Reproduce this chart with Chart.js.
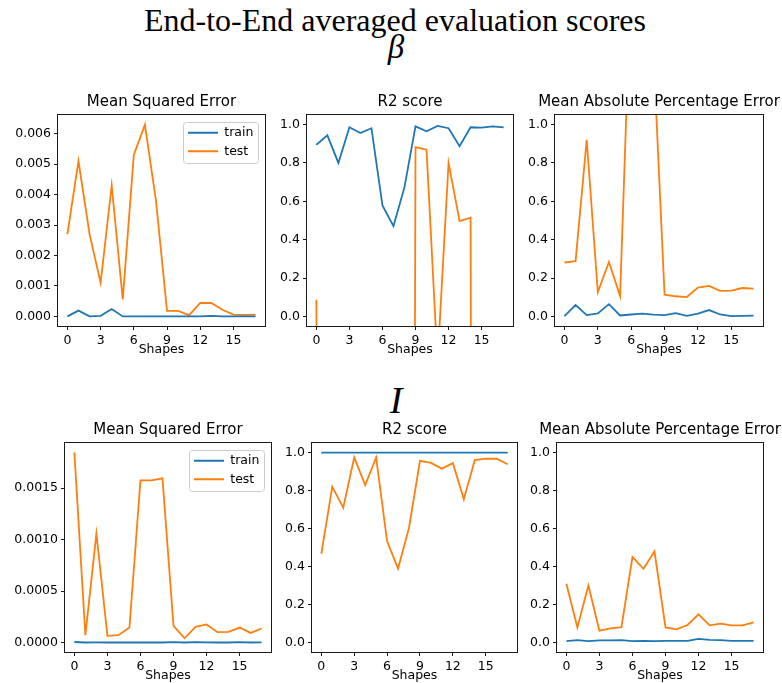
<!DOCTYPE html>
<html>
<head>
<meta charset="utf-8">
<title>End-to-End averaged evaluation scores</title>
<script src="https://cdn.jsdelivr.net/npm/chart.js@4.4.0/dist/chart.umd.min.js"></script>
<style>
body { margin:0; background:#fff; }
#fig { position:relative; width:782px; height:683px; overflow:hidden; }
#fig canvas { position:absolute; }
.txt { position:absolute; text-align:center; white-space:nowrap; color:#000; font-family:"Liberation Serif", "Times New Roman", serif; }
</style>
</head>
<body>
<div id="fig">
  <div class="txt" style="left:95px;top:4px;width:600px;font-size:32px;line-height:32px">End-to-End averaged evaluation scores</div>
  <div class="txt" style="left:346px;top:31px;width:100px;font-size:33px;line-height:33px;font-style:italic">β</div>
  <div class="txt" style="left:346px;top:381px;width:100px;font-size:38px;line-height:38px;font-style:italic">I</div>
  <canvas id="mse_beta"></canvas>
  <canvas id="r2_beta"></canvas>
  <canvas id="mape_beta"></canvas>
  <canvas id="mse_i"></canvas>
  <canvas id="r2_i"></canvas>
  <canvas id="mape_i"></canvas>
</div>
<script>
// shape index on the x axis
var shapes = [0, 1, 2, 3, 4, 5, 6, 7, 8, 9, 10, 11, 12, 13, 14, 15, 16, 17];
var xTicks = [0, 3, 6, 9, 12, 15];

// beta
var mseBetaTrain = [0, 0.00019, 0, 0.00002, 0.00024, 0, 0, 0, 0, 0, 0, 0, 0, 0.00002, 0, 0, 0, 0];
var mseBetaTest = [0.0027, 0.0051, 0.0027, 0.0011, 0.0043, 0.00056, 0.0053, 0.0063, 0.0038, 0.00018, 0.00018, 0.00004, 0.00044, 0.00044, 0.00022, 0.00006, 0.00005, 0.00006];
var r2BetaTrain = [0.895, 0.944, 0.80, 0.986, 0.956, 0.981, 0.579, 0.471, 0.674, 0.991, 0.965, 0.993, 0.981, 0.887, 0.986, 0.984, 0.991, 0.986];
var r2BetaTest = [0.087, -12, -30, -8, -20, -15, -40, -25, -18, 0.883, 0.869, -0.24, 0.80, 0.497, 0.515, -22, -35, -28];
var mapeBetaTrain = [0.002, 0.059, 0.007, 0.016, 0.064, 0.005, 0.010, 0.014, 0.009, 0.007, 0.017, 0.003, 0.014, 0.033, 0.010, 0.002, 0.003, 0.004];
var mapeBetaTest = [0.281, 0.288, 0.921, 0.127, 0.284, 0.106, 1.8, 2.5, 1.38, 0.113, 0.105, 0.101, 0.150, 0.159, 0.133, 0.134, 0.148, 0.145];

// I
var mseITrain = [0.000006, 0.000001, 0.000002, 0.000001, 0.000001, 0.000001, 0.000001, 0.000001, 0.000001, 0.000004, 0.000001, 0.000004, 0.000002, 0.000001, 0.000001, 0.000004, 0.000001, 0.000002];
var mseITest = [0.001845, 0.000072, 0.001057, 0.000065, 0.000072, 0.000146, 0.001575, 0.001575, 0.001594, 0.000163, 0.000042, 0.000153, 0.000176, 0.000101, 0.000104, 0.000146, 0.000094, 0.000137];
var r2ITrain = [0.999, 0.999, 0.999, 0.999, 0.999, 0.999, 0.999, 0.999, 0.999, 0.999, 0.999, 0.999, 0.999, 0.999, 0.999, 0.999, 0.999, 0.999];
var r2ITest = [0.467, 0.820, 0.710, 0.974, 0.829, 0.974, 0.533, 0.389, 0.604, 0.956, 0.945, 0.915, 0.944, 0.754, 0.960, 0.968, 0.967, 0.938];
var mapeITrain = [0.007, 0.012, 0.007, 0.011, 0.011, 0.012, 0.007, 0.009, 0.007, 0.009, 0.009, 0.009, 0.019, 0.014, 0.012, 0.009, 0.009, 0.009];
var mapeITest = [0.309, 0.079, 0.300, 0.062, 0.074, 0.081, 0.450, 0.388, 0.480, 0.079, 0.069, 0.092, 0.148, 0.090, 0.099, 0.090, 0.090, 0.106];

Chart.defaults.font.family = "'DejaVu Sans', sans-serif";
Chart.defaults.font.size = 12.5;
Chart.defaults.color = '#000';

// 5% margins like matplotlib autoscale
function padRange(arrs) {
    var all = [].concat.apply([], arrs);
    var lo = Math.min.apply(null, all), hi = Math.max.apply(null, all);
    var m = (hi - lo) * 0.05;
    return [lo - m, hi + m];
}
var xRange = padRange([shapes]);

// box round the plot + legend put inside the top right corner
var axesBox = {
    id: 'axesBox',
    afterLayout: function(chart) {
        var a = chart.chartArea;
        // let the long titles run past the plot instead of squeezing them
        var tb = chart.titleBlock;
        if (tb) { tb.left = a.left - 60; tb.right = a.right + 60; }
        var lg = chart.legend;
        if (!lg || !lg.options.display) return;
        var fx = a.right - 7 - 75, fy = a.top + 7;
        var h = lg.bottom - lg.top;
        lg.left = fx + 5 - 6; lg.right = lg.left + lg.width;
        lg.top = fy + 4.5 - 6; lg.bottom = lg.top + h;
    },
    beforeDraw: function(chart) {
        var lg = chart.legend;
        if (!lg || !lg.options.display) return;
        var a = chart.chartArea, ctx = chart.ctx;
        ctx.save();
        ctx.beginPath();
        ctx.roundRect(Math.round(a.right - 7 - 75) + 0.5, Math.round(a.top + 7) + 0.5, 75, 41, 3);
        ctx.fillStyle = 'rgba(255,255,255,0.8)';
        ctx.fill();
        ctx.strokeStyle = '#cccccc';
        ctx.lineWidth = 1;
        ctx.stroke();
        ctx.restore();
    },
    afterDraw: function(chart) {
        var a = chart.chartArea, ctx = chart.ctx;
        ctx.save();
        ctx.strokeStyle = '#1a1a1a';
        ctx.lineWidth = 1;
        ctx.strokeRect(Math.round(a.left) - 0.5, Math.round(a.top) - 0.5, Math.round(a.right - a.left) + 1, Math.round(a.bottom - a.top) + 1);
        ctx.restore();
    }
};

function drawPanel(id, box, title, train, test, yLim, yStep, digits, showLegend) {
    var padL = box[0] > 200 ? 45 : box[0];
    var padR = box[0] > 500 ? 782 - box[0] - box[2] : 15;
    var padT = 22, padB = 31;
    var cv = document.getElementById(id);
    cv.width = box[2] + padL + padR;
    cv.height = box[3] + padT + padB;
    cv.style.left = (box[0] - padL) + 'px';
    cv.style.top = (box[1] - padT) + 'px';
    var tickGrid = { drawOnChartArea: false, drawTicks: true, tickLength: 4, color: '#1a1a1a' };

    new Chart(cv.getContext('2d'), {
        type: 'line',
        data: {
            labels: shapes,
            datasets: [
                { label: 'train', data: train, borderColor: '#1f77b4', backgroundColor: '#1f77b4' },
                { label: 'test', data: test, borderColor: '#ff7f0e', backgroundColor: '#ff7f0e' }
            ]
        },
        options: {
            responsive: false,
            animation: false,
            elements: {
                line: { borderWidth: 1.8, tension: 0, fill: false },
                point: { radius: 0, borderWidth: 1.8 }
            },
            layout: { padding: { left: 0, top: 0, bottom: 0, right: padR } },
            scales: {
                x: {
                    type: 'linear', min: xRange[0], max: xRange[1],
                    afterBuildTicks: function(s) { s.ticks = xTicks.map(function(v) { return { value: v }; }); },
                    ticks: { autoSkip: false, maxRotation: 0, padding: 3 },
                    grid: tickGrid,
                    border: { display: false },
                    title: { display: true, text: 'Shapes', padding: 0 },
                    afterFit: function(s) { s.height = padB; }
                },
                y: {
                    type: 'linear', min: yLim[0], max: yLim[1],
                    ticks: { stepSize: yStep, includeBounds: false, padding: 3,
                        callback: function(v) { return v.toFixed(digits); } },
                    grid: tickGrid,
                    border: { display: false },
                    afterFit: function(s) { s.width = padL; }
                }
            },
            plugins: {
                title: { display: true, text: title, fullSize: false, font: { size: 15, weight: 'normal' },
                    color: '#000', padding: { top: 0, bottom: 4 } },
                legend: {
                    display: showLegend, position: 'chartArea', align: 'start', maxHeight: 100,
                    labels: { usePointStyle: true, pointStyle: 'line', pointStyleWidth: 30, padding: 6,
                        font: { size: 12.5 }, color: '#000' }
                },
                tooltip: { enabled: false }
            }
        },
        plugins: [axesBox]
    });
}

drawPanel('mse_beta', [58, 115, 207, 211], 'Mean Squared Error', mseBetaTrain, mseBetaTest,
    padRange([mseBetaTrain, mseBetaTest]), 0.001, 3, true);
drawPanel('r2_beta', [307, 115, 206, 211], 'R2 score', r2BetaTrain, r2BetaTest, [-0.05, 1.05], 0.2, 1, false);
drawPanel('mape_beta', [555, 115, 208, 211], 'Mean Absolute Percentage Error', mapeBetaTrain, mapeBetaTest,
    [-0.05, 1.05], 0.2, 1, false);

drawPanel('mse_i', [65, 443, 206, 209], 'Mean Squared Error', mseITrain, mseITest,
    padRange([mseITrain, mseITest]), 0.0005, 4, true);
drawPanel('r2_i', [312, 443, 205, 209], 'R2 score', r2ITrain, r2ITest, [-0.05, 1.05], 0.2, 1, false);
drawPanel('mape_i', [557, 443, 206, 209], 'Mean Absolute Percentage Error', mapeITrain, mapeITest,
    [-0.05, 1.05], 0.2, 1, false);
</script>
</body>
</html>
